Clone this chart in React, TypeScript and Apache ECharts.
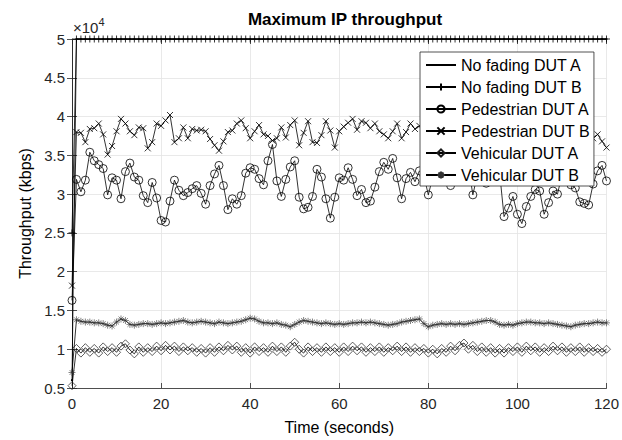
import React, { useEffect, useRef } from "react";
import * as echarts from "echarts";

// Time in seconds (one sample per second)
const TIME: number[] = Array.from({ length: 121 }, (_, i) => i);

// Throughput values in units of 10^4 kbps
const noFadingA: number[] = [
  0.6, 5, 5, 5, 5, 5, 5, 5, 5, 5, 5, 5, 5, 5, 5, 5, 5, 5, 5, 5,
  5, 5, 5, 5, 5, 5, 5, 5, 5, 5, 5, 5, 5, 5, 5, 5, 5, 5, 5, 5,
  5, 5, 5, 5, 5, 5, 5, 5, 5, 5, 5, 5, 5, 5, 5, 5, 5, 5, 5, 5,
  5, 5, 5, 5, 5, 5, 5, 5, 5, 5, 5, 5, 5, 5, 5, 5, 5, 5, 5, 5,
  5, 5, 5, 5, 5, 5, 5, 5, 5, 5, 5, 5, 5, 5, 5, 5, 5, 5, 5, 5,
  5, 5, 5, 5, 5, 5, 5, 5, 5, 5, 5, 5, 5, 5, 5, 5, 5, 5, 5, 5,
  5,
];
const noFadingB: number[] = [
  2.5, 5, 5, 5, 5, 5, 5, 5, 5, 5, 5, 5, 5, 5, 5, 5, 5, 5, 5, 5,
  5, 5, 5, 5, 5, 5, 5, 5, 5, 5, 5, 5, 5, 5, 5, 5, 5, 5, 5, 5,
  5, 5, 5, 5, 5, 5, 5, 5, 5, 5, 5, 5, 5, 5, 5, 5, 5, 5, 5, 5,
  5, 5, 5, 5, 5, 5, 5, 5, 5, 5, 5, 5, 5, 5, 5, 5, 5, 5, 5, 5,
  5, 5, 5, 5, 5, 5, 5, 5, 5, 5, 5, 5, 5, 5, 5, 5, 5, 5, 5, 5,
  5, 5, 5, 5, 5, 5, 5, 5, 5, 5, 5, 5, 5, 5, 5, 5, 5, 5, 5, 5,
  5,
];
const pedestrianA: number[] = [
  1.63, 3.19, 3.03, 3.18, 3.54, 3.43, 3.38, 3.33, 2.99, 3.21,
  3.18, 2.94, 3.29, 3.40, 3.22, 3.18, 2.98, 2.89, 3.15, 2.95,
  2.66, 2.64, 2.91, 3.18, 3.05, 2.98, 3.02, 3.07, 3.11, 3.01,
  2.87, 3.11, 3.26, 3.37, 3.11, 2.80, 2.94, 2.87, 2.98, 3.27,
  3.34, 3.32, 3.20, 3.12, 3.43, 3.64, 3.17, 2.97, 3.19, 3.35,
  3.43, 2.96, 2.81, 2.83, 2.97, 3.32, 3.22, 2.94, 2.69, 2.96,
  3.21, 3.18, 3.34, 3.19, 2.98, 3.06, 2.89, 2.91, 3.09, 3.29,
  3.41, 3.32, 3.46, 3.21, 2.94, 3.20, 3.28, 3.16, 3.30, 3.24,
  2.99, 3.22, 3.35, 3.28, 3.40, 3.11, 3.30, 3.42, 3.26, 3.36,
  2.99, 3.25, 3.35, 3.14, 3.30, 3.42, 3.28, 2.71, 2.82, 2.97,
  2.74, 2.62, 2.84, 2.97, 3.06, 3.04, 2.74, 2.89, 3.04, 3.00,
  3.25, 3.18, 3.12, 3.08, 2.90, 2.88, 2.86, 3.13, 3.30, 3.37,
  3.17,
];
const pedestrianB: number[] = [
  1.82, 3.80, 3.79, 3.67, 3.84, 3.85, 3.91, 3.77, 3.51, 3.62,
  3.81, 3.97, 3.91, 3.81, 3.76, 3.86, 3.85, 3.59, 3.67, 3.91,
  3.88, 3.95, 4.02, 3.67, 3.72, 3.86, 3.72, 3.84, 3.82, 3.83,
  3.81, 3.71, 3.63, 3.56, 3.68, 3.80, 3.82, 3.91, 3.95, 3.85,
  3.72, 3.81, 3.89, 3.77, 3.75, 3.69, 3.72, 3.86, 3.73, 3.89,
  3.95, 3.63, 3.79, 3.94, 3.67, 3.66, 3.76, 3.94, 3.82, 3.60,
  3.81, 3.87, 3.92, 3.97, 3.83, 3.94, 3.92, 3.85, 3.91, 3.81,
  3.77, 3.72, 3.81, 3.91, 3.72, 3.80, 3.91, 3.84, 3.88, 3.75,
  3.83, 3.92, 3.70, 3.86, 3.79, 3.90, 3.64, 3.82, 3.87, 3.74,
  3.93, 3.80, 3.69, 3.85, 3.91, 3.76, 3.83, 3.66, 3.89, 3.78,
  3.84, 3.95, 3.71, 3.86, 3.80, 3.73, 3.90, 3.82, 3.68, 3.87,
  3.79, 3.92, 3.75, 3.84, 3.81, 3.89, 3.74, 3.72, 3.77, 3.68,
  3.60,
];
const vehicularA: number[] = [
  0.53, 1.01, 0.95, 1.02, 0.96, 1.01, 0.95, 1.03, 0.97, 1.02,
  0.96, 1.04, 1.07, 0.99, 0.94, 1.03, 0.96, 1.02, 0.97, 1.04,
  0.98, 1.05, 0.99, 1.04, 0.97, 1.03, 0.98, 1.02, 0.96, 1.01,
  0.95, 1.02, 0.96, 1.03, 0.98, 1.05, 0.99, 1.04, 0.96, 1.02,
  0.95, 1.03, 0.97, 1.02, 0.96, 1.04, 0.97, 1.03, 0.96, 1.04,
  1.09, 1.00, 0.95, 1.03, 0.97, 1.02, 0.96, 1.03, 0.97, 1.02,
  0.96, 1.03, 0.97, 1.04, 0.98, 1.03, 0.96, 1.02, 0.97, 1.03,
  0.96, 1.02, 0.98, 1.04, 0.97, 1.03, 0.96, 1.02, 0.97, 1.01,
  0.95, 1.00, 0.94, 1.01, 0.96, 1.04, 0.98, 1.05, 1.08, 1.00,
  1.05, 0.97, 1.03, 0.96, 1.02, 0.95, 1.01, 0.95, 1.02, 0.97,
  1.03, 0.96, 1.04, 0.98, 1.03, 0.96, 1.02, 0.97, 1.04, 0.98,
  1.03, 0.96, 1.02, 0.97, 1.03, 0.96, 1.02, 0.97, 1.01, 0.96,
  1.00,
];
const vehicularB: number[] = [
  0.70, 1.38, 1.36, 1.35, 1.35, 1.34, 1.34, 1.33, 1.31, 1.30,
  1.35, 1.39, 1.37, 1.32, 1.31, 1.32, 1.33, 1.33, 1.32, 1.33,
  1.34, 1.33, 1.34, 1.35, 1.36, 1.37, 1.35, 1.34, 1.35, 1.36,
  1.35, 1.34, 1.33, 1.35, 1.34, 1.33, 1.34, 1.35, 1.36, 1.38,
  1.40, 1.39, 1.36, 1.34, 1.34, 1.33, 1.34, 1.32, 1.31, 1.29,
  1.32, 1.35, 1.37, 1.36, 1.35, 1.34, 1.33, 1.34, 1.33, 1.32,
  1.33, 1.32, 1.33, 1.34, 1.34, 1.35, 1.34, 1.35, 1.34, 1.33,
  1.32, 1.31, 1.32, 1.33, 1.35, 1.36, 1.37, 1.38, 1.39, 1.33,
  1.29, 1.31, 1.32, 1.33, 1.32, 1.33, 1.32, 1.33, 1.32, 1.33,
  1.34, 1.35, 1.36, 1.37, 1.37, 1.35, 1.32, 1.31, 1.32, 1.31,
  1.33, 1.34, 1.35, 1.35, 1.34, 1.34, 1.33, 1.34, 1.33, 1.32,
  1.31, 1.30, 1.29, 1.31, 1.32, 1.33, 1.33, 1.34, 1.35, 1.34,
  1.34,
];

const SERIES_NAMES = [
  "No fading DUT A",
  "No fading DUT B",
  "Pedestrian DUT A",
  "Pedestrian DUT B",
  "Vehicular DUT A",
  "Vehicular DUT B",
];

const SYM_DOT = "path://M0,0 M10,10 M3.6,5 A1.4,1.4 0 1,1 6.4,5 A1.4,1.4 0 1,1 3.6,5 Z";
const SYM_CIRCLE = "path://M10,5 A5,5 0 1,1 0,5 A5,5 0 1,1 10,5 Z";
const SYM_X = "path://M0,0 L10,10 M10,0 L0,10";
const SYM_PLUS = "path://M5,0 L5,10 M0,5 L10,5";
const SYM_STAR = "path://M5,0 L5,10 M0,5 L10,5 M1.5,1.5 L8.5,8.5 M8.5,1.5 L1.5,8.5";
const SYM_DIAMOND = "path://M5,0 L10,5 L5,10 L0,5 Z";

const FONT = "'Liberation Sans', Arial, Helvetica, sans-serif";
const AX = "#262626";

export default function App() {
  const ref = useRef<HTMLDivElement>(null);
  useEffect(() => {
    if (!ref.current) return;
    const chart = echarts.init(ref.current, null, { renderer: "svg" });
    const values = [noFadingA, noFadingB, pedestrianA, pedestrianB, vehicularA, vehicularB];
    const symbols = [SYM_DOT, SYM_PLUS, SYM_CIRCLE, SYM_X, SYM_DIAMOND, SYM_STAR];
    const sizes = [8, 7, 8, 6, 8, 7];
    const strokes = ["#000", "#000", "#000", "#000", "#1a1a1a", "#333"];
    const widths = [0, 0.8, 0.8, 0.8, 0.7, 0.6];
    const series = values.map((vals, i) => ({
      name: SERIES_NAMES[i],
      type: "line",
      data: vals.map((v, k) => [TIME[k], v]),
      symbol: symbols[i],
      symbolSize: sizes[i],
      showSymbol: true,
      clip: false,
      lineStyle: { color: "#000", width: 0.8 },
      itemStyle:
        i === 0
          ? { color: "#000", borderColor: "#000", borderWidth: 0 }
          : { color: "transparent", borderColor: strokes[i], borderWidth: widths[i] },
      emphasis: { disabled: true },
      z: 2 + i,
    }));
    chart.setOption({
      animation: false,
      backgroundColor: "#fff",
      textStyle: { fontFamily: FONT },
      title: {
        text: "Maximum IP throughput",
        left: 340,
        textAlign: "center",
        top: 6,
        textStyle: { fontFamily: FONT, fontSize: 17, fontWeight: "bold", color: "#000" },
      },
      grid: { left: 72, right: 14, top: 39, bottom: 49 },
      legend: {
        data: SERIES_NAMES,
        orient: "vertical",
        left: 420,
        top: 52,
        backgroundColor: "#fff",
        borderColor: AX,
        borderWidth: 0.8,
        padding: [4, 4, 2, 5],
        itemWidth: 30,
        itemHeight: 9,
        itemGap: 4,
        z: 20,
        textStyle: { fontFamily: FONT, fontSize: 16, color: "#000", lineHeight: 18 },
      },
      graphic: [
        {
          type: "text",
          left: 73,
          top: 16,
          z: 10,
          style: {
            text: "{a|×10}{b|4}",
            rich: {
              a: { fontFamily: FONT, fontSize: 15, fill: AX, verticalAlign: "bottom" },
              b: { fontFamily: FONT, fontSize: 11, fill: AX, verticalAlign: "top", padding: [0, 0, 8, 0] },
            },
          },
        },
      ],
      xAxis: [
        {
          type: "value",
          min: 0,
          max: 120,
          interval: 20,
          name: "Time (seconds)",
          nameLocation: "middle",
          nameGap: 31,
          nameTextStyle: { fontFamily: FONT, fontSize: 16, color: "#000" },
          axisLine: { lineStyle: { color: AX, width: 0.8 } },
          axisTick: { inside: true, length: 5, lineStyle: { color: AX, width: 0.8 } },
          axisLabel: { fontFamily: FONT, fontSize: 15, color: AX, margin: 8 },
          splitLine: { show: true, lineStyle: { color: "#e3e3e3", width: 0.8 } },
        },
        {
          type: "value",
          position: "top",
          min: 0,
          max: 120,
          interval: 20,
          axisLine: { lineStyle: { color: AX, width: 0.8 } },
          axisTick: { inside: true, length: 5, lineStyle: { color: AX, width: 0.8 } },
          axisLabel: { show: false },
          splitLine: { show: false },
        },
      ],
      yAxis: [
        {
          type: "value",
          min: 0.5,
          max: 5,
          interval: 0.5,
          name: "Throughput (kbps)",
          nameLocation: "middle",
          nameGap: 38,
          nameTextStyle: { fontFamily: FONT, fontSize: 16, color: "#000" },
          axisLine: { show: true, lineStyle: { color: AX, width: 0.8 } },
          axisTick: { show: true, inside: true, length: 5, lineStyle: { color: AX, width: 0.8 } },
          axisLabel: { fontFamily: FONT, fontSize: 15, color: AX, margin: 7 },
          splitLine: { show: true, lineStyle: { color: "#e3e3e3", width: 0.8 } },
        },
        {
          type: "value",
          position: "right",
          min: 0.5,
          max: 5,
          interval: 0.5,
          axisLine: { show: true, lineStyle: { color: AX, width: 0.8 } },
          axisTick: { show: true, inside: true, length: 5, lineStyle: { color: AX, width: 0.8 } },
          axisLabel: { show: false },
          splitLine: { show: false },
        },
      ],
      series,
    });
    return () => chart.dispose();
  }, []);
  return (
    <div
      ref={ref}
      style={{ position: "fixed", left: 0, top: 0, width: 622, height: 440 }}
    />
  );
}
